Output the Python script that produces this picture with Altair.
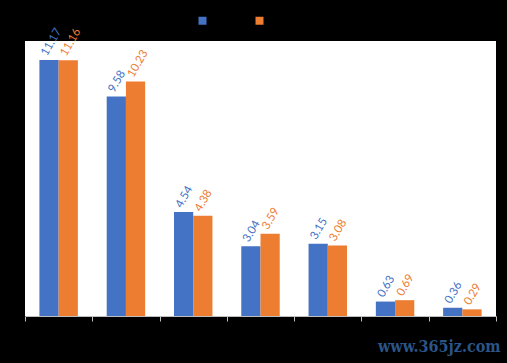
import altair as alt
import pandas as pd

categories = ["类别1", "类别2", "类别3", "类别4", "类别5", "类别6", "类别7"]
series_names = ["系列1", "系列2"]
series1 = [11.17, 9.58, 4.54, 3.04, 3.15, 0.63, 0.36]
series2 = [11.16, 10.23, 4.38, 3.59, 3.08, 0.69, 0.29]
colors = ["#4472C4", "#ED7D31"]

rows = []
for i, c in enumerate(categories):
    rows.append({"cat": c, "series": series_names[0], "value": series1[i], "label": f"{series1[i]:.2f}"})
    rows.append({"cat": c, "series": series_names[1], "value": series2[i], "label": f"{series2[i]:.2f}"})
df = pd.DataFrame(rows)

x_enc = alt.X(
    "cat:N",
    sort=categories,
    title=None,
    scale=alt.Scale(paddingInner=0, paddingOuter=0),
    axis=alt.Axis(
        tickBand="extent",
        domainColor="#BFBFBF",
        tickColor="#BFBFBF",
        tickSize=5,
        labelColor="#000000",
        labelAngle=0,
        labelFontSize=11,
    ),
)
xoff = alt.XOffset("series:N", sort=series_names, scale=alt.Scale(paddingInner=0, paddingOuter=0.75))
y_enc = alt.Y("value:Q", scale=alt.Scale(domain=[0, 12], nice=False, zero=True), axis=None)
color_enc = alt.Color(
    "series:N",
    sort=series_names,
    scale=alt.Scale(domain=series_names, range=colors),
    legend=alt.Legend(
        title=None,
        orient="none",
        direction="horizontal",
        legendX=173,
        legendY=-25,
        symbolType="square",
        symbolSize=64,
        symbolStrokeWidth=0,
        labelColor="#000000",
        labelFontSize=9,
        columnPadding=20,
    ),
)

bars = alt.Chart(df).mark_bar(stroke=None).encode(x=x_enc, xOffset=xoff, y=y_enc, color=color_enc)

labels = alt.Chart(df).mark_text(
    angle=300, align="left", baseline="middle", dx=2, dy=-6.5, fontSize=11.5, font="Lato"
).encode(
    x=x_enc,
    xOffset=xoff,
    y=y_enc,
    text="label:N",
    color=alt.Color("series:N", sort=series_names, scale=alt.Scale(domain=series_names, range=colors), legend=None),
)

chart = (
    alt.layer(bars, labels)
    .properties(
        width=471,
        height=275,
        background="#000000",
        padding={"left": 25, "top": 41, "right": 11, "bottom": 47},
        autosize=alt.AutoSizeParams(type="none"),
        title=alt.TitleParams(
            "www.365jz.com",
            orient="bottom",
            anchor="end",
            fontSize=16,
            font="DejaVu Serif Condensed",
            fontWeight="bold",
            color="#2B5487",
            offset=5,
            dx=4,
        ),
    )
    .configure_view(fill="#FFFFFF", strokeWidth=0)
)

chart.save("out.html", embed_options={"renderer": "svg", "actions": False})
